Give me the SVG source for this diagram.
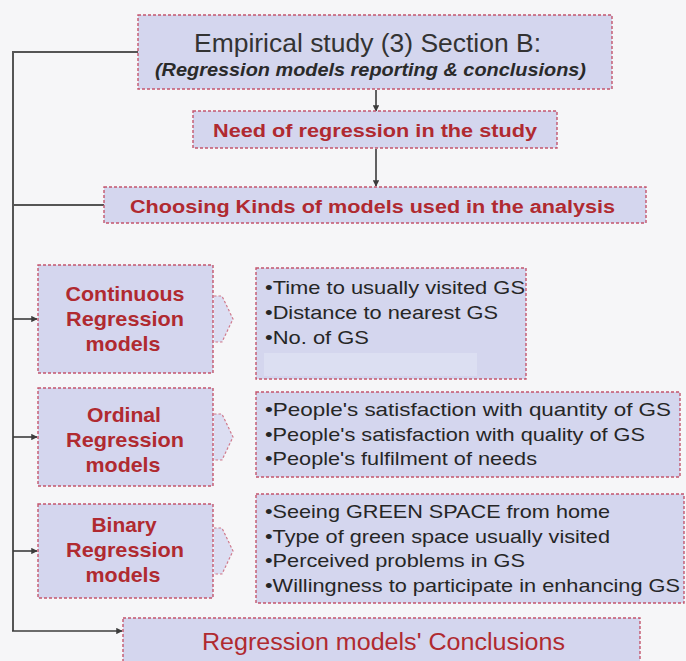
<svg xmlns="http://www.w3.org/2000/svg" width="686" height="661" viewBox="0 0 686 661">
  <defs>
    <marker id="head" viewBox="0 0 10 10" refX="9" refY="5" markerWidth="4" markerHeight="4" orient="auto" markerUnits="strokeWidth">
      <path d="M0,0 L10,5 L0,10 z" fill="#3c3c3c"/>
    </marker>
  </defs>
  <style>
    .box { fill: #d4d6ee; stroke: #c4566e; stroke-width: 1.4; stroke-dasharray: 3 2; }
    .chev { fill: #dcdef2; stroke: #d07a8c; stroke-width: 1.2; stroke-dasharray: 2.5 2; }
    .wire { fill: none; stroke: #555; stroke-width: 2; }
    .arr { fill: none; stroke: #3c3c3c; stroke-width: 1.6; marker-end: url(#head); }
    .title { font-family: "Liberation Sans", Arial, sans-serif; font-size: 26px; fill: #333; }
    .sub { font-family: "Liberation Sans", Arial, sans-serif; font-size: 17.5px; font-weight: bold; font-style: italic; fill: #2a2a2a; }
    .red { font-family: "Liberation Sans", Arial, sans-serif; font-size: 18px; font-weight: bold; fill: #b02a30; }
    .lbl { font-family: "Liberation Sans", Arial, sans-serif; font-size: 20.5px; font-weight: bold; fill: #b02a30; text-anchor: middle; }
    .item { font-family: "Liberation Sans", Arial, sans-serif; font-size: 19px; fill: #262626; }
    .end { font-family: "Liberation Sans", Arial, sans-serif; font-size: 23px; fill: #b02a30; }
  </style>

  <rect width="686" height="661" fill="#f6f6f8"/>

  <!-- connectors -->
  <g id="connectors">
    <polyline class="wire" points="138,52 13,52 13,631"/>
    <line class="wire" x1="13" y1="205" x2="104" y2="205"/>
    <line class="arr" x1="13" y1="319" x2="37" y2="319"/>
    <line class="arr" x1="13" y1="437" x2="37" y2="437"/>
    <line class="arr" x1="13" y1="551" x2="37" y2="551"/>
    <line class="arr" x1="12" y1="631" x2="122" y2="631"/>
    <line class="arr" x1="376" y1="90" x2="376" y2="111"/>
    <line class="arr" x1="376" y1="149" x2="376" y2="186"/>
  </g>

  <!-- heading -->
  <g id="section-b">
    <rect class="box" x="138" y="15" width="474" height="74"/>
    <text class="title" x="194" y="52" textLength="347" lengthAdjust="spacingAndGlyphs">Empirical study (3) Section B:</text>
    <text class="sub" x="155" y="76" textLength="431" lengthAdjust="spacingAndGlyphs">(Regression models reporting &amp; conclusions)</text>
  </g>

  <g id="need">
    <rect class="box" x="193" y="111" width="364" height="37"/>
    <text class="red" x="213" y="137" textLength="324" lengthAdjust="spacingAndGlyphs">Need of regression in the study</text>
  </g>

  <g id="choosing">
    <rect class="box" x="104" y="187" width="542" height="36"/>
    <text class="red" x="130" y="213" textLength="485" lengthAdjust="spacingAndGlyphs">Choosing Kinds of models used in the analysis</text>
  </g>

  <!-- continuous -->
  <g id="continuous">
    <rect class="box" x="38" y="265" width="175" height="108"/>
    <text class="lbl" x="125" y="301" textLength="119" lengthAdjust="spacingAndGlyphs">Continuous</text>
    <text class="lbl" x="125" y="326" textLength="118" lengthAdjust="spacingAndGlyphs">Regression</text>
    <text class="lbl" x="123" y="351" textLength="75" lengthAdjust="spacingAndGlyphs">models</text>
  </g>
  <path class="chev" d="M214,296 L222,296 L233,319 L222,342 L214,342"/>
  <g id="continuous-list">
    <rect class="box" x="256" y="268" width="270" height="111"/>
    <rect x="264" y="353" width="213" height="23" fill="#dcdff2"/>
    <text class="item" x="265" y="294" textLength="260" lengthAdjust="spacingAndGlyphs">•Time to usually visited GS</text>
    <text class="item" x="265" y="319" textLength="233" lengthAdjust="spacingAndGlyphs">•Distance to nearest GS</text>
    <text class="item" x="265" y="344" textLength="104" lengthAdjust="spacingAndGlyphs">•No. of GS</text>
  </g>

  <!-- ordinal -->
  <g id="ordinal">
    <rect class="box" x="38" y="388" width="175" height="98"/>
    <text class="lbl" x="124" y="422" textLength="74" lengthAdjust="spacingAndGlyphs">Ordinal</text>
    <text class="lbl" x="125" y="447" textLength="118" lengthAdjust="spacingAndGlyphs">Regression</text>
    <text class="lbl" x="123" y="472" textLength="75" lengthAdjust="spacingAndGlyphs">models</text>
  </g>
  <path class="chev" d="M214,414 L222,414 L233,437 L222,460 L214,460"/>
  <g id="ordinal-list">
    <rect class="box" x="256" y="392" width="424" height="85"/>
    <text class="item" x="265" y="416" textLength="406" lengthAdjust="spacingAndGlyphs">•People's satisfaction with quantity of GS</text>
    <text class="item" x="265" y="441" textLength="380" lengthAdjust="spacingAndGlyphs">•People's satisfaction with quality of GS</text>
    <text class="item" x="265" y="465" textLength="272" lengthAdjust="spacingAndGlyphs">•People's fulfilment of needs</text>
  </g>

  <!-- binary -->
  <g id="binary">
    <rect class="box" x="38" y="504" width="175" height="94"/>
    <text class="lbl" x="124" y="532" textLength="65" lengthAdjust="spacingAndGlyphs">Binary</text>
    <text class="lbl" x="125" y="557" textLength="118" lengthAdjust="spacingAndGlyphs">Regression</text>
    <text class="lbl" x="123" y="582" textLength="75" lengthAdjust="spacingAndGlyphs">models</text>
  </g>
  <path class="chev" d="M214,528 L222,528 L233,551 L222,574 L214,574"/>
  <g id="binary-list">
    <rect class="box" x="256" y="494" width="428" height="109"/>
    <text class="item" x="265" y="518" textLength="345" lengthAdjust="spacingAndGlyphs">•Seeing GREEN SPACE from home</text>
    <text class="item" x="265" y="543" textLength="345" lengthAdjust="spacingAndGlyphs">•Type of green space usually visited</text>
    <text class="item" x="265" y="567" textLength="260" lengthAdjust="spacingAndGlyphs">•Perceived problems in GS</text>
    <text class="item" x="265" y="592" textLength="415" lengthAdjust="spacingAndGlyphs">•Willingness to participate in enhancing GS</text>
  </g>

  <!-- conclusions -->
  <g id="conclusions">
    <rect class="box" x="123" y="618" width="517" height="60"/>
    <text class="end" x="202" y="650" textLength="363" lengthAdjust="spacingAndGlyphs">Regression models' Conclusions</text>
  </g>
</svg>
